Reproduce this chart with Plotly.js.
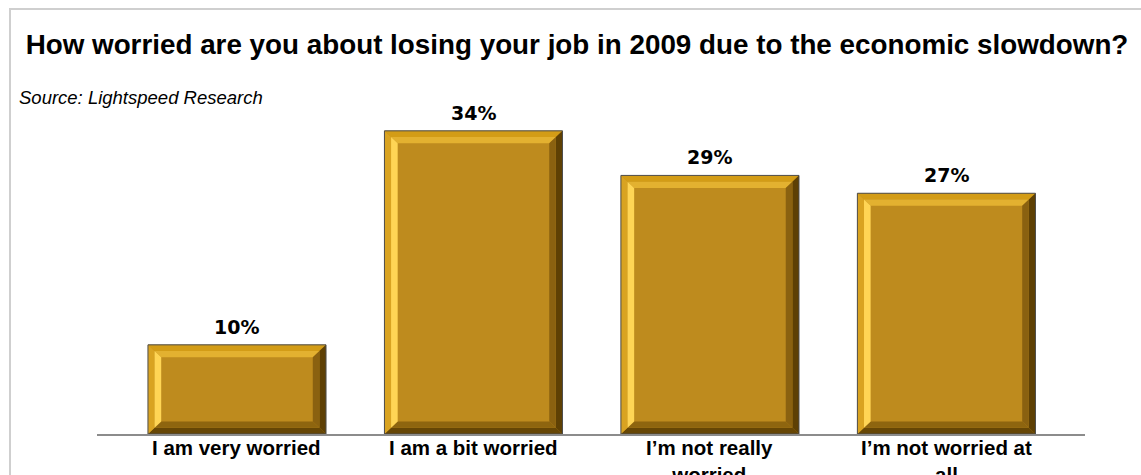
<!DOCTYPE html>
<html>
<head>
<meta charset="utf-8">
<script src="https://cdn.plot.ly/plotly-3.0.1.min.js"></script>
<style>
html,body{margin:0;padding:0;background:#fff;overflow:hidden;}
#wrap{position:relative;width:1141px;height:475px;}
#chart{position:absolute;left:0;top:0;width:1141px;height:475px;}
#frame{position:absolute;left:9px;top:8px;width:1140px;height:470px;border-top:2px solid #cfcfcf;border-left:2px solid #cfcfcf;pointer-events:none;}
</style>
</head>
<body>
<div id="wrap"><div id="chart"></div><div id="frame"></div></div>
<script>
const categories = ["I am very worried", "I am a bit worried", "I’m not really<br>worried", "I’m not worried at<br>all"];
const values = [10, 34, 29, 27];
const valueLabels = ["10%", "34%", "29%", "27%"];
const titleText = "How worried are you about losing your job in 2009 due to the economic slowdown?";
const sourceText = "Source: Lightspeed Research";

const barWidth = 0.753;
const bw = 0.056;   // bevel size in x units
const bh = 1.4;     // bevel size in y units
const shapes = [];
function poly(pts, color) {
  const d = 'M' + pts.map(p => p[0] + ',' + p[1]).join(' L') + ' Z';
  shapes.push({type: 'path', xref: 'x', yref: 'y', path: d, fillcolor: color, line: {width: 0}, layer: 'above'});
}
values.forEach((v, i) => {
  const x0 = i - barWidth / 2, x1 = i + barWidth / 2;
  const y0 = 0, y1 = v;
  const steps = [
    {f0: 0, f1: 0.5, top: '#D39C16', left: '#D9A321', right: '#5E4004', bottom: '#664605'},
    {f0: 0.5, f1: 1, top: '#E3B130', left: '#FFD555', right: '#8A6110', bottom: '#8E650F'}
  ];
  steps.forEach(s => {
    const ax0 = x0 + bw * s.f0, ax1 = x0 + bw * s.f1;
    const bx0 = x1 - bw * s.f0, bx1 = x1 - bw * s.f1;
    const ay0 = y0 + bh * s.f0, ay1 = y0 + bh * s.f1;
    const by0 = y1 - bh * s.f0, by1 = y1 - bh * s.f1;
    poly([[ax0, by0], [bx0, by0], [bx1, by1], [ax1, by1]], s.top);
    poly([[ax0, ay0], [bx0, ay0], [bx1, ay1], [ax1, ay1]], s.bottom);
    poly([[ax0, ay0], [ax1, ay1], [ax1, by1], [ax0, by0]], s.left);
    poly([[bx0, ay0], [bx1, ay1], [bx1, by1], [bx0, by0]], s.right);
  });
  shapes.push({type: 'rect', xref: 'x', yref: 'y', x0: x0, x1: x1, y0: y0, y1: y1,
    line: {color: '#4d4d4d', width: 1}, fillcolor: 'rgba(0,0,0,0)', layer: 'above'});
});

const trace = {
  type: 'bar',
  x: [0, 1, 2, 3],
  y: values,
  width: barWidth,
  marker: {color: '#BE8B1E', line: {width: 0}},
  hoverinfo: 'skip'
};

const annotations = [{
  text: sourceText, xref: 'paper', yref: 'paper', x: (17 - 97) / 988, y: (434 - 97) / 321,
  xanchor: 'left', yanchor: 'middle', showarrow: false,
  font: {family: 'Liberation Sans, Arial', size: 18.5, color: '#000', style: 'italic'}
}];
categories.forEach((c, i) => {
  annotations.push({
    text: c, xref: 'x', yref: 'y', x: i, y: 0, xanchor: 'center', yanchor: 'top',
    yshift: 0, showarrow: false, align: 'center',
    font: {family: 'Liberation Sans, Arial', size: 20.5, color: '#000', weight: 'bold'}
  });
});
values.forEach((v, i) => {
  annotations.push({
    text: valueLabels[i], xref: 'x', yref: 'y', x: i, y: v, xanchor: 'center', yanchor: 'bottom',
    yshift: 5, showarrow: false,
    font: {family: 'DejaVu Sans', size: 19, color: '#000', weight: 'bold'}
  });
});

const layout = {
  width: 1141, height: 475,
  margin: {l: 97, r: 56, t: 113, b: 41},
  paper_bgcolor: '#fff', plot_bgcolor: '#fff',
  showlegend: false,
  title: {text: titleText, x: 0.5057, xref: 'container', xanchor: 'center',
    y: 1 - 44 / 475, yref: 'container', yanchor: 'middle',
    font: {family: 'Liberation Sans, Arial', size: 27.8, color: '#000', weight: 'bold'}},
  xaxis: {
    range: [-0.592, 3.586], tickmode: 'array', tickvals: [0, 1, 2, 3],
    showticklabels: false,
    showgrid: false, zeroline: false, showline: true, linecolor: '#8c8c8c', linewidth: 1.5,
    ticks: '', fixedrange: true
  },
  yaxis: {range: [0, 36], visible: false, fixedrange: true},
  shapes: shapes,
  annotations: annotations
};

Plotly.newPlot('chart', [trace], layout, {displayModeBar: false, staticPlot: true});
</script>
</body>
</html>
